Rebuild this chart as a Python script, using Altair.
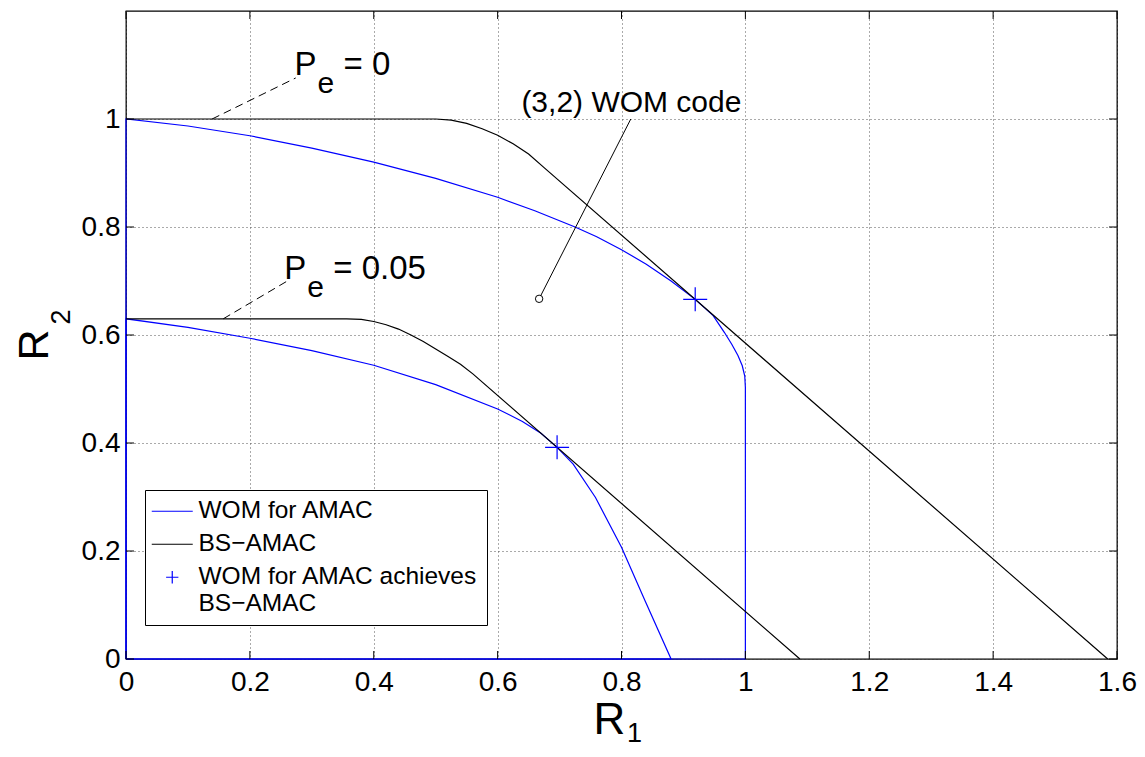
import altair as alt
import pandas as pd

FONT = "Liberation Sans"

# ---------------- data ----------------
# WOM for AMAC, Pe = 0 (closed region boundary)
wom0_r1 = [0, 0, 0.1, 0.2, 0.3, 0.4, 0.5, 0.6, 0.66, 0.725, 0.76, 0.8, 0.84, 0.88,
           0.919, 0.948, 0.966, 0.978, 0.988, 0.995, 0.999, 1.0, 1.0, 0]
wom0_r2 = [0, 1, 0.987, 0.969, 0.946, 0.92, 0.89, 0.855, 0.83, 0.80, 0.782, 0.758, 0.731, 0.70,
           0.666, 0.636, 0.605, 0.583, 0.562, 0.543, 0.524, 0.503, 0, 0]
# WOM for AMAC, Pe = 0.05
wom05_r1 = [0, 0, 0.1, 0.2, 0.3, 0.4, 0.5, 0.6, 0.64, 0.67, 0.696, 0.722, 0.758, 0.8, 0.838, 0.88, 0]
wom05_r2 = [0, 0.63, 0.614, 0.594, 0.571, 0.544, 0.508, 0.463, 0.440, 0.418, 0.392, 0.361,
            0.299, 0.207, 0.108, 0, 0]
# BS-AMAC, Pe = 0
bs0_r1 = [0, 0.5, 0.525, 0.55, 0.575, 0.6, 0.625, 0.65, 0.675, 1.585]
bs0_r2 = [1, 1, 0.998, 0.992, 0.982, 0.97, 0.954, 0.935, 0.91, 0]
# BS-AMAC, Pe = 0.05
bs05_r1 = [0, 0.356, 0.38, 0.40, 0.42, 0.44, 0.46, 0.48, 0.50, 0.52, 0.54, 0.56, 1.088]
bs05_r2 = [0.63, 0.63, 0.629, 0.625, 0.619, 0.611, 0.600, 0.588, 0.574, 0.560, 0.546, 0.528, 0]
# points where WOM for AMAC achieves BS-AMAC
star_r1 = [0.919, 0.696]
star_r2 = [0.666, 0.392]
# (3,2) WOM code point
code_r1 = [0.667]
code_r2 = [0.667]

series_names = ["WOM for AMAC", "BS\u2212AMAC", "WOM for AMAC achieves BS\u2212AMAC"]
series_colors = ["#0000ff", "#000000", "#0000ff"]

x_ticks = [0, 0.2, 0.4, 0.6, 0.8, 1.0, 1.2, 1.4, 1.6]
y_ticks = [0, 0.2, 0.4, 0.6, 0.8, 1.0]

# leader lines (start -> end)
lead_r1a = [0.139, 0.157, 0.667]
lead_r2a = [1.0, 0.63, 0.667]
lead_r1b = [0.274, 0.259, 0.815]
lead_r2b = [1.076, 0.699, 1.0]
lead_kind = ["dash", "dash", "solid"]

# annotation anchors
pe_r1 = [0.272, 0.2554]
pe_r2 = [1.0815, 0.7037]
pe_vals = ["= 0", "= 0.05"]
code_label = "(3,2) WOM code"
code_label_r1 = [0.816]
code_label_r2 = [1.013]

# ---------------- build tables ----------------
rows = []
def add(name, series, xs_, ys_):
    for i, (a, b) in enumerate(zip(xs_, ys_)):
        rows.append(dict(curve=name, series=series, r1=a, r2=b, ord=i))

add("wom0", series_names[0], wom0_r1, wom0_r2)
add("wom05", series_names[0], wom05_r1, wom05_r2)
add("bs0", series_names[1], bs0_r1, bs0_r2)
add("bs05", series_names[1], bs05_r1, bs05_r2)
lines_df = pd.DataFrame(rows)

star_df = pd.DataFrame({"r1": star_r1, "r2": star_r2, "series": [series_names[2]] * len(star_r1)})
code_df = pd.DataFrame({"r1": code_r1, "r2": code_r2})
lead_df = pd.DataFrame({"r1": lead_r1a, "r2": lead_r2a, "r1b": lead_r1b, "r2b": lead_r2b, "kind": lead_kind})

W, H = 991, 648

xs = alt.Scale(domain=[0, 1.6], nice=False, zero=False)
ys = alt.Scale(domain=[0, 1.2], nice=False, zero=False)

grid_common = dict(grid=True, gridDash=[1, 3], gridColor="#555555", gridWidth=1, gridOpacity=1,
                   ticks=False, tickSize=0, domain=False, title=None,
                   labelFont=FONT, labelFontSize=28, labelColor="black", labelOverlap=False)
xaxis = alt.Axis(values=x_ticks, format=".1~f", labelPadding=31, labelBaseline="alphabetic",
                 labelFlush=False, **grid_common)
yaxis = alt.Axis(values=y_ticks, format=".1~f", labelPadding=6, labelBaseline="middle",
                 labelAlign="right", labelFlush=False, **grid_common)

X = lambda f="r1": alt.X(f"{f}:Q", scale=xs, axis=xaxis)
Y = lambda f="r2": alt.Y(f"{f}:Q", scale=ys, axis=yaxis)

color_scale = alt.Scale(domain=series_names, range=series_colors)
shape_scale = alt.Scale(domain=series_names,
                        range=["M-2,0L2,0", "M-2,0L2,0", "M-0.6,0L0.6,0M0,-0.6L0,0.6"])

legend = alt.Legend(
    title=None, orient="none", legendX=19, legendY=479,
    labelExpr="datum.label == 'WOM for AMAC achieves BS\u2212AMAC' ? ['WOM for AMAC achieves', 'BS\u2212AMAC'] : datum.label",
    labelFont=FONT, labelFontSize=24.5, labelColor="black", labelLimit=0,
    labelBaseline="middle",
    symbolSize=420, symbolStrokeWidth=1.2, symbolFillColor="transparent",
    symbolOffset=6, labelOffset=14, rowPadding=8, padding=9,
    fillColor="white", strokeColor="black", cornerRadius=0,
)

lines = alt.Chart(lines_df).mark_line(strokeWidth=1.2).encode(
    x=X(), y=Y(),
    color=alt.Color("series:N", scale=color_scale, legend=legend),
    detail="curve:N",
    order="ord:Q",
)

stars = alt.Chart(star_df).mark_point(filled=False, strokeWidth=1.2, size=1600, opacity=1).encode(
    x=X(), y=Y(),
    color=alt.Color("series:N", scale=color_scale, legend=legend),
    shape=alt.Shape("series:N", scale=shape_scale, legend=legend),
)

lead_dash = alt.Chart(lead_df[lead_df.kind == "dash"]).mark_rule(
    color="black", strokeWidth=1, strokeDash=[8, 5]).encode(
    x=X(), y=Y(), x2="r1b:Q", y2="r2b:Q")
lead_solid = alt.Chart(lead_df[lead_df.kind == "solid"]).mark_rule(
    color="black", strokeWidth=1).encode(
    x=X(), y=Y(), x2="r1b:Q", y2="r2b:Q")

code_pt = alt.Chart(code_df).mark_point(shape="circle", filled=True, fill="white", stroke="black",
                                        strokeWidth=1, size=55, opacity=1).encode(x=X(), y=Y())

def dtext(xv, yv, text, size, dx=0, dy=0, align="left"):
    d = pd.DataFrame({"r1": [xv], "r2": [yv], "t": [text]})
    return alt.Chart(d).mark_text(font=FONT, fontSize=size, dx=dx, dy=dy, align=align,
                                  baseline="alphabetic", color="black").encode(
        x=X(), y=Y(), text="t:N")

texts = []
for px, py, val in zip(pe_r1, pe_r2, pe_vals):
    texts.append(dtext(px, py, "P", 33))
    texts.append(dtext(px, py, "e", 30, dx=23, dy=18))
    texts.append(dtext(px, py, val, 33, dx=49))
texts.append(dtext(code_label_r1[0], code_label_r2[0], code_label, 30, align="center"))

# inward ticks on all four sides, from the tick arrays
xt = pd.DataFrame({"v": x_ticks})
yt = pd.DataFrame({"v": y_ticks})
tick_b = alt.Chart(xt).mark_rule(color="black", strokeWidth=1).encode(
    x=X("v"), y=alt.value(H - 8), y2=alt.value(H))
tick_t = alt.Chart(xt).mark_rule(color="black", strokeWidth=1).encode(
    x=X("v"), y=alt.value(0), y2=alt.value(8))
tick_l = alt.Chart(yt).mark_rule(color="black", strokeWidth=1).encode(
    y=Y("v"), x=alt.value(0), x2=alt.value(8))
tick_r = alt.Chart(yt).mark_rule(color="black", strokeWidth=1).encode(
    y=Y("v"), x=alt.value(W - 8), x2=alt.value(W))

# axis titles R_1 and R_2 (with subscripts)
one = pd.DataFrame({"a": [0]})
def ptext(text, x, y, size, angle=0, align="left"):
    kw = dict(font=FONT, fontSize=size, align=align, baseline="alphabetic", color="black", text=text)
    if angle:
        kw["angle"] = angle
    return alt.Chart(one).mark_text(**kw).encode(x=alt.value(x), y=alt.value(y))

titles = [
    ptext("R", 467.5, 723, 44),
    ptext("1", 501, 731, 27),
    ptext("R", -78, 334, 43, angle=270, align="center"),
    ptext("2", -56, 306, 27, angle=270, align="center"),
]

chart = alt.layer(
    lines, lead_dash, lead_solid, code_pt, stars, *texts,
    tick_b, tick_t, tick_l, tick_r, *titles
).properties(
    width=W, height=H,
    autosize=alt.AutoSizeParams(type="none"),
    padding={"left": 118, "top": 3, "right": 20, "bottom": 90},
    background="white",
).configure_view(
    stroke="black", strokeWidth=1.3
)

chart.save("out.html", embed_options={"renderer": "svg", "actions": False})
